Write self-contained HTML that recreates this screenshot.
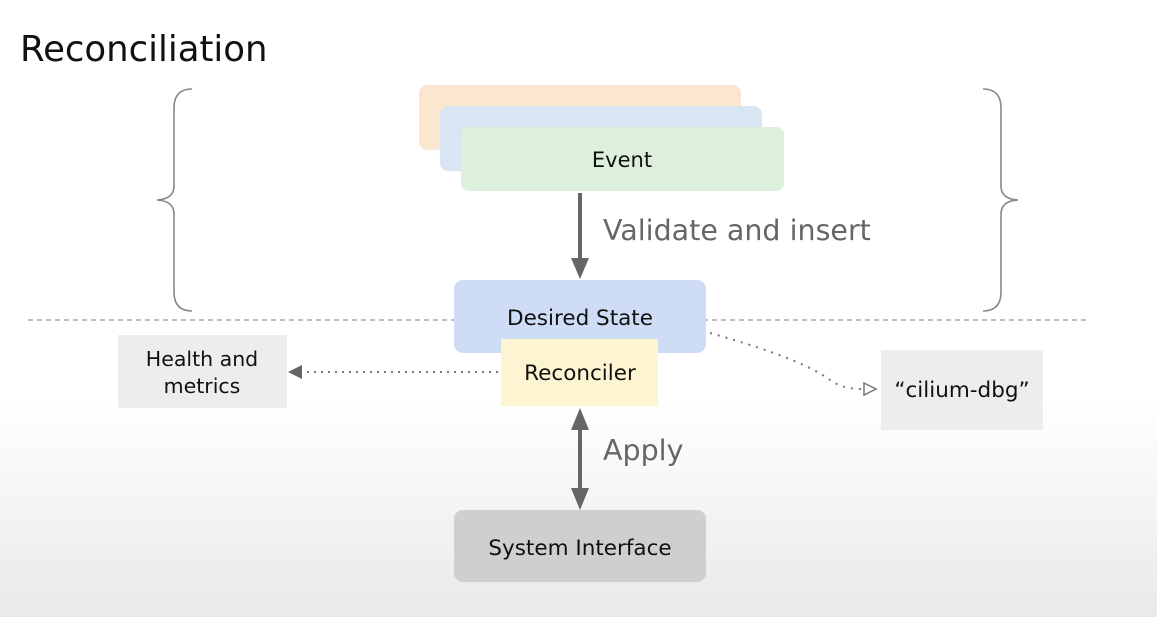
<!DOCTYPE html>
<html><head><style>
html,body{margin:0;padding:0}
body{width:1157px;height:617px;overflow:hidden;background:linear-gradient(to bottom,#fff 0,#fff 400px,#e9e9e9 617px);font-family:"DejaVu Sans","Liberation Sans",sans-serif}
</style></head><body>
<svg width="1157" height="617" xmlns="http://www.w3.org/2000/svg" style="position:absolute;left:0;top:0">
<text x="20" y="61" font-size="35.5" fill="#111">Reconciliation</text>
<path d="M192,89 Q174,89 174,108 L174,186 Q174,199 157,200 Q174,201 174,214 L174,292 Q174,311 192,311" fill="none" stroke="#888" stroke-width="1.6"/>
<path d="M983,89 Q1001,89 1001,108 L1001,186 Q1001,199 1018,200 Q1001,201 1001,214 L1001,292 Q1001,311 983,311" fill="none" stroke="#888" stroke-width="1.6"/>
<line x1="28" y1="320" x2="1090" y2="320" stroke="#aaa" stroke-width="1.5" stroke-dasharray="5,4"/>
<rect x="419" y="85" width="322" height="65" rx="8" fill="#fbe6cf"/>
<rect x="440" y="106" width="322" height="65" rx="8" fill="#d7e6f2"/>
<rect x="461" y="127" width="323" height="64" rx="8" fill="#ddf0dc"/>
<text x="622" y="167" font-size="21" text-anchor="middle" fill="#111">Event</text>
<line x1="580" y1="193" x2="580" y2="262" stroke="#666" stroke-width="4"/>
<path d="M571,258 L589,258 L580,279 z" fill="#666"/>
<text x="603" y="240" font-size="28.5" fill="#666">Validate and insert</text>
<rect x="454" y="280" width="252" height="73" rx="9" fill="#cfdcf5"/>
<text x="580" y="325" font-size="21.5" text-anchor="middle" fill="#111">Desired State</text>
<rect x="501" y="339" width="157" height="67" fill="#fdf5d1"/>
<text x="580" y="380" font-size="21.5" text-anchor="middle" fill="#111">Reconciler</text>
<rect x="118" y="335" width="169" height="73" fill="#ededee"/>
<text x="202" y="366" font-size="20.5" text-anchor="middle" fill="#111">Health and</text>
<text x="202" y="393" font-size="20.5" text-anchor="middle" fill="#111">metrics</text>
<line x1="498" y1="372" x2="304" y2="372" stroke="#777" stroke-width="2" stroke-dasharray="2,5"/>
<path d="M302,365 L288,372 L302,379 z" fill="#666"/>
<rect x="881" y="350" width="162" height="80" fill="#ededee"/>
<text x="962" y="397" font-size="21.5" text-anchor="middle" fill="#111">“cilium-dbg”</text>
<path d="M710,333 C770,350 810,365 830,380 C842,388 852,389 862,389" fill="none" stroke="#777" stroke-width="2" stroke-dasharray="2,6"/>
<path d="M864,383 L876,389 L864,395 z" fill="#fff" stroke="#777" stroke-width="1.5"/>
<line x1="580" y1="425" x2="580" y2="493" stroke="#666" stroke-width="4"/>
<path d="M571,430 L589,430 L580,408 z" fill="#666"/>
<path d="M571,488 L589,488 L580,510 z" fill="#666"/>
<text x="603" y="460" font-size="28.5" fill="#666">Apply</text>
<rect x="454" y="510" width="252" height="72" rx="9" fill="#cfcfd0"/>
<text x="580" y="555" font-size="21.5" text-anchor="middle" fill="#111">System Interface</text>
</svg>
</body></html>
